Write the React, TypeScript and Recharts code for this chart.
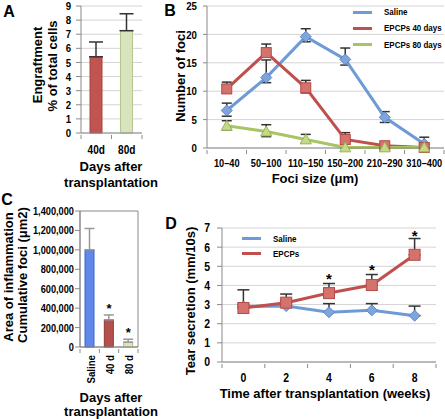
import React from "react";
import {
  BarChart,
  Bar,
  Cell,
  LineChart,
  Line,
  ComposedChart,
  XAxis,
  YAxis,
  CartesianGrid,
  ErrorBar,
  ReferenceArea
} from "recharts";

// A - engraftment
const engraftDays = ["40d", "80d"];
const engraftPct = [5.4, 7.25];
const engraftErr = [1.05, 1.2];
const engraftTicks = [0, 1, 2, 3, 4, 5, 6, 7, 8, 9];

// B - number of foci by size
const fociSizes = ["10–40", "50–100", "110–150", "150–200", "210–290", "310–400"];
const fociSaline = [6.6, 12.4, 19.6, 15.6, 5.4, 0.7];
const fociSalineUp = [1.3, 3.1, 1.4, 2.0, 1.0, 1.2];
const fociSalineDown = [1.0, 0.9, 0.9, 1.0, 0.9, 0.7];
const foci40 = [10.4, 16.8, 10.6, 1.5, 0.4, 0.1];
const foci40Up = [1.2, 1.5, 1.3, 1.2, 0.3, 0.1];
const foci40Down = [0.7, 0.7, 0.9, 0.6, 0.2, 0.1];
const foci80 = [3.9, 2.9, 1.5, 0.1, 0.1, 0.1];
const foci80Up = [0.9, 1.2, 0.9, 0.1, 0.1, 0.1];
const foci80Down = [0.7, 0.9, 0.6, 0.1, 0.1, 0.1];
const fociNames = ["Saline", "EPCPs 40 days", "EPCPs 80 days"];
const fociTicks = [0, 5, 10, 15, 20, 25];

// C - cumulative area of inflammation
const areaGroups = ["Saline", "40 d", "80 d"];
const areaValues = [1000000, 280000, 50000];
const areaErr = [220000, 50000, 30000];
const areaStars = [null, 430000, 185000];
const areaTicks = [0, 200000, 400000, 600000, 800000, 1000000, 1200000, 1400000];

// D - tear secretion
const tearWeeks = ["0", "2", "4", "6", "8"];
const tearSaline = [2.9, 2.92, 2.6, 2.7, 2.42];
const tearSalineErr = [0.87, 0.3, 0.45, 0.35, 0.5];
const tearEpcp = [2.82, 3.1, 3.6, 4.02, 5.6];
const tearEpcpErr = [0.2, 0.45, 0.5, 0.55, 0.85];
const tearStars = [null, null, 4.55, 5.0, 6.75];
const tearNames = ["Saline", "EPCPs"];
const tearTicks = [0, 1, 2, 3, 4, 5, 6, 7];

const SANS = "'Liberation Sans', Arial, Helvetica, sans-serif";
const SQUEEZE = 0.84; // tick fonts in the figure are narrow
const GRID = "#d4d4d4";
const AXIS = "#8a8a8a";
const BLUE = "#6e9bd6";
const RED = "#c0504d";
const GREEN = "#a9c563";

const engraftData = engraftDays.map((day, i) => ({
  day,
  pct: engraftPct[i],
  err: [0, engraftErr[i]]
}));
const engraftColors = [
  { fill: "#bf5450", stroke: "#a8423f" },
  { fill: "#d7e4bd", stroke: "#b5c68e" }
];

const fociData = fociSizes.map((size, i) => ({
  size,
  saline: fociSaline[i],
  salineErr: [fociSalineDown[i], fociSalineUp[i]],
  d40: foci40[i],
  d40Err: [foci40Down[i], foci40Up[i]],
  d80: foci80[i],
  d80Err: [foci80Down[i], foci80Up[i]]
}));

const areaData = areaGroups.map((group, i) => ({
  group,
  area: areaValues[i],
  err: [0, areaErr[i]],
  star: areaStars[i]
}));
const areaColors = [
  { fill: "#5f88e8", stroke: "#3d64c8" },
  { fill: "#b5514c", stroke: "#8e3a36" },
  { fill: "#d9e6b7", stroke: "#afc07f" }
];

const tearData = tearWeeks.map((week, i) => ({
  week,
  saline: tearSaline[i],
  salineErr: [0, tearSalineErr[i]],
  epcp: tearEpcp[i],
  epcpErr: [0, tearEpcpErr[i]],
  star: tearStars[i]
}));

const squeeze = (x: number, y: number) =>
  `translate(${x},${y}) scale(${SQUEEZE},1) translate(${-x},${-y})`;

function BandTick(props: any) {
  const { x, y, payload, index, band, count, size, dy } = props;
  const ty = y + dy;
  return (
    <g>
      <line x1={x - band / 2} x2={x - band / 2} y1={y} y2={y + 4} stroke={AXIS} />
      {index === count - 1 && (
        <line x1={x + band / 2} x2={x + band / 2} y1={y} y2={y + 4} stroke={AXIS} />
      )}
      <text
        x={x}
        y={ty}
        textAnchor="middle"
        fontFamily={SANS}
        fontWeight={700}
        fontSize={size}
        fill="#000"
        transform={squeeze(x, ty)}
      >
        {payload.value}
      </text>
    </g>
  );
}

function YTick(props: any) {
  const { x, y, payload, size, fmt } = props;
  const label = fmt ? fmt(payload.value) : payload.value;
  return (
    <text
      x={x}
      y={y}
      dy="0.36em"
      textAnchor="end"
      fontFamily={SANS}
      fontWeight={700}
      fontSize={size}
      fill="#000"
      transform={squeeze(x, y)}
    >
      {label}
    </text>
  );
}

function RotTick(props: any) {
  const { x, y, payload, index, band, count } = props;
  const tx = x + 5;
  const ty = y + 6;
  return (
    <g>
      <line x1={x - band / 2} x2={x - band / 2} y1={y} y2={y + 4} stroke={AXIS} />
      {index === count - 1 && (
        <line x1={x + band / 2} x2={x + band / 2} y1={y} y2={y + 4} stroke={AXIS} />
      )}
      <text
        x={tx}
        y={ty}
        textAnchor="end"
        fontFamily={SANS}
        fontWeight={700}
        fontSize={11.5}
        fill="#000"
        transform={`translate(${tx},${ty}) rotate(-90) scale(${SQUEEZE},1) translate(${-tx},${-ty})`}
      >
        {payload.value}
      </text>
    </g>
  );
}

const diamondDot = (fill: string, stroke: string, r: number) => (p: any) => {
  const { cx, cy, index } = p;
  if (cx == null || cy == null) return <g key={index} />;
  return (
    <path
      key={index}
      d={`M${cx},${cy - r}L${cx + r},${cy}L${cx},${cy + r}L${cx - r},${cy}Z`}
      fill={fill}
      stroke={stroke}
    />
  );
};

const squareDot = (fill: string, stroke: string, r: number) => (p: any) => {
  const { cx, cy, index } = p;
  if (cx == null || cy == null) return <g key={index} />;
  return <rect key={index} x={cx - r} y={cy - r} width={2 * r} height={2 * r} fill={fill} stroke={stroke} />;
};

const triangleDot = (fill: string, stroke: string, r: number) => (p: any) => {
  const { cx, cy, index } = p;
  if (cx == null || cy == null) return <g key={index} />;
  return (
    <path
      key={index}
      d={`M${cx},${cy - r}L${cx + r},${cy + r * 0.8}L${cx - r},${cy + r * 0.8}Z`}
      fill={fill}
      stroke={stroke}
    />
  );
};

const starDot = (size: number) => (p: any) => {
  const { cx, cy, index } = p;
  if (cx == null || cy == null) return <g key={index} />;
  return (
    <text key={index} x={cx} y={cy + size * 0.58} textAnchor="middle" fontFamily={SANS} fontWeight={700} fontSize={size} fill="#000">
      *
    </text>
  );
};

function Title({ x, y, text, size = 13, rotate = false }: any) {
  return (
    <div
      style={{
        position: "absolute",
        left: x,
        top: y,
        transform: `translate(-50%, -50%)${rotate ? " rotate(-90deg)" : ""}`,
        whiteSpace: "nowrap",
        fontFamily: SANS,
        fontWeight: 700,
        fontSize: size,
        lineHeight: 1,
        color: "#000"
      }}
    >
      {text}
    </div>
  );
}

function LegendRow({ x, y, color, label }: any) {
  return (
    <>
      <div style={{ position: "absolute", left: x, top: y - 1.5, width: 19, height: 3, background: color }} />
      <div
        style={{
          position: "absolute",
          left: x + 31,
          top: y,
          transform: `translateY(-50%) scaleX(${SQUEEZE})`,
          transformOrigin: "left center",
          whiteSpace: "nowrap",
          fontFamily: SANS,
          fontWeight: 700,
          fontSize: 9.5,
          lineHeight: 1,
          color: "#000"
        }}
      >
        {label}
      </div>
    </>
  );
}

const bandB = (444 - 207) / 6;
const bandD = (436 - 222) / 5;
const bandC = (138 - 80) / 3;

export default function App() {
  const fociColors = [BLUE, RED, GREEN];
  return (
    <div style={{ position: "absolute", left: 0, top: 0, width: 445, height: 419, background: "#fff", overflow: "hidden" }}>
      {/* A */}
      <div style={{ position: "absolute", left: 40, top: -10 }}>
        <BarChart width={110} height={185} data={engraftData} margin={{ top: 16, right: 8, left: 0, bottom: 0 }}>
          <CartesianGrid vertical={false} stroke={GRID} />
          <XAxis
            dataKey="day"
            axisLine={{ stroke: AXIS }}
            tickLine={false}
            tickSize={0}
            interval={0}
            height={42}
            tick={<BandTick band={30.5} count={2} size={12} dy={19} />}
          />
          <YAxis
            domain={[0, 9]}
            ticks={engraftTicks}
            interval={0}
            width={41}
            axisLine={{ stroke: AXIS }}
            tickLine={{ stroke: AXIS }}
            tickSize={5}
            tickMargin={5}
            tick={<YTick size={11.5} />}
          />
          <Bar dataKey="pct" barSize={12} isAnimationActive={false}>
            {engraftData.map((d, i) => (
              <Cell key={d.day} fill={engraftColors[i].fill} stroke={engraftColors[i].stroke} />
            ))}
            <ErrorBar dataKey="err" width={7} stroke="#333" />
          </Bar>
        </BarChart>
      </div>
      <Title x={9} y={12} text="A" size={16} />
      <Title x={37} y={65} text="Engraftment" rotate />
      <Title x={52} y={66} text="% of total cells" rotate />
      <Title x={111} y={166} text="Days after" />
      <Title x={111} y={182} text="transplantation" />

      {/* B */}
      <div style={{ position: "absolute", left: 150, top: -10 }}>
        <LineChart width={295} height={210} data={fociData} margin={{ top: 16, right: 1, left: 0, bottom: 0 }}>
          <CartesianGrid vertical={false} stroke={GRID} />
          <XAxis
            dataKey="size"
            padding={{ left: bandB / 2, right: bandB / 2 }}
            axisLine={{ stroke: AXIS }}
            tickLine={false}
            tickSize={0}
            interval={0}
            height={52}
            tick={<BandTick band={bandB} count={6} size={11} dy={17} />}
          />
          <YAxis
            domain={[0, 25]}
            ticks={fociTicks}
            interval={0}
            width={57}
            axisLine={{ stroke: AXIS }}
            tickLine={{ stroke: AXIS }}
            tickSize={4}
            tickMargin={6}
            tick={<YTick size={11.5} />}
          />
          <Line dataKey="saline" stroke={BLUE} strokeWidth={3} dot={diamondDot("#7ea6dc", "#5b86c5", 5.5)} isAnimationActive={false}>
            <ErrorBar dataKey="salineErr" width={5} stroke="#333" />
          </Line>
          <Line dataKey="d40" stroke={RED} strokeWidth={3} dot={squareDot("#d4726e", "#b84a47", 5)} isAnimationActive={false}>
            <ErrorBar dataKey="d40Err" width={5} stroke="#333" />
          </Line>
          <Line dataKey="d80" stroke={GREEN} strokeWidth={3} dot={triangleDot("#c5da86", "#98b456", 5.5)} isAnimationActive={false}>
            <ErrorBar dataKey="d80Err" width={5} stroke="#333" />
          </Line>
        </LineChart>
      </div>
      <Title x={170} y={11} text="B" size={16} />
      <Title x={180} y={76} text="Number of foci" rotate />
      <Title x={315} y={178} text="Foci size (μm)" />
      {fociNames.map((name, i) => (
        <LegendRow key={name} x={353} y={12 + i * 16.3} color={fociColors[i]} label={name} />
      ))}

      {/* C */}
      <div style={{ position: "absolute", left: 20, top: 200 }}>
        <ComposedChart width={120} height={200} data={areaData} margin={{ top: 11, right: 2, left: 0, bottom: 0 }}>
          <ReferenceArea y1={0} y2={1400000} fill="none" stroke={AXIS} />
          <XAxis
            dataKey="group"
            axisLine={{ stroke: AXIS }}
            tickLine={false}
            tickSize={0}
            interval={0}
            height={53}
            tick={<RotTick band={bandC} count={3} />}
          />
          <YAxis
            domain={[0, 1400000]}
            ticks={areaTicks}
            interval={0}
            width={60}
            axisLine={{ stroke: AXIS }}
            tickLine={{ stroke: AXIS }}
            tickSize={5}
            tickMargin={1}
            tick={<YTick size={11} fmt={(v: number) => v.toLocaleString("en-US")} />}
          />
          <Bar dataKey="area" barSize={9} isAnimationActive={false}>
            {areaData.map((d, i) => (
              <Cell key={d.group} fill={areaColors[i].fill} stroke={areaColors[i].stroke} />
            ))}
            <ErrorBar dataKey="err" width={5} stroke="#999" />
          </Bar>
          <Line dataKey="star" stroke="none" dot={starDot(13)} isAnimationActive={false} />
        </ComposedChart>
      </div>
      <Title x={7} y={200} text="C" size={16} />
      <Title x={8} y={277} text="Area of inflammation" rotate />
      <Title x={22} y={275} text="Cumulative foci (μm2)" rotate />
      <Title x={111} y={397} text="Days after" />
      <Title x={111} y={411} text="transplantation" />

      {/* D */}
      <div style={{ position: "absolute", left: 150, top: 215 }}>
        <LineChart width={290} height={185} data={tearData} margin={{ top: 13, right: 4, left: 0, bottom: 0 }}>
          <CartesianGrid vertical={false} stroke={GRID} />
          <XAxis
            dataKey="week"
            padding={{ left: bandD / 2, right: bandD / 2 }}
            axisLine={{ stroke: AXIS }}
            tickLine={false}
            tickSize={0}
            interval={0}
            height={38}
            tick={<BandTick band={bandD} count={5} size={12.5} dy={18} />}
          />
          <YAxis
            domain={[0, 7]}
            ticks={tearTicks}
            interval={0}
            width={72}
            axisLine={{ stroke: AXIS }}
            tickLine={{ stroke: AXIS }}
            tickSize={5}
            tickMargin={7}
            tick={<YTick size={12.5} />}
          />
          <Line dataKey="saline" stroke={BLUE} strokeWidth={3} dot={diamondDot("#7ea6dc", "#5b86c5", 5.5)} isAnimationActive={false}>
            <ErrorBar dataKey="salineErr" width={6} stroke="#333" />
          </Line>
          <Line dataKey="epcp" stroke={RED} strokeWidth={3} dot={squareDot("#d4726e", "#b84a47", 5.5)} isAnimationActive={false}>
            <ErrorBar dataKey="epcpErr" width={6} stroke="#333" />
          </Line>
          <Line dataKey="star" stroke="none" dot={starDot(15)} isAnimationActive={false} />
        </LineChart>
      </div>
      <Title x={171} y={224} text="D" size={16} />
      <Title x={190} y={301} text="Tear secretion (mm/10s)" rotate />
      <Title x={325} y={393} text="Time after transplantation (weeks)" />
      {tearNames.map((name, i) => (
        <LegendRow key={name} x={242} y={238.5 + i * 15} color={[BLUE, RED][i]} label={name} />
      ))}
    </div>
  );
}
